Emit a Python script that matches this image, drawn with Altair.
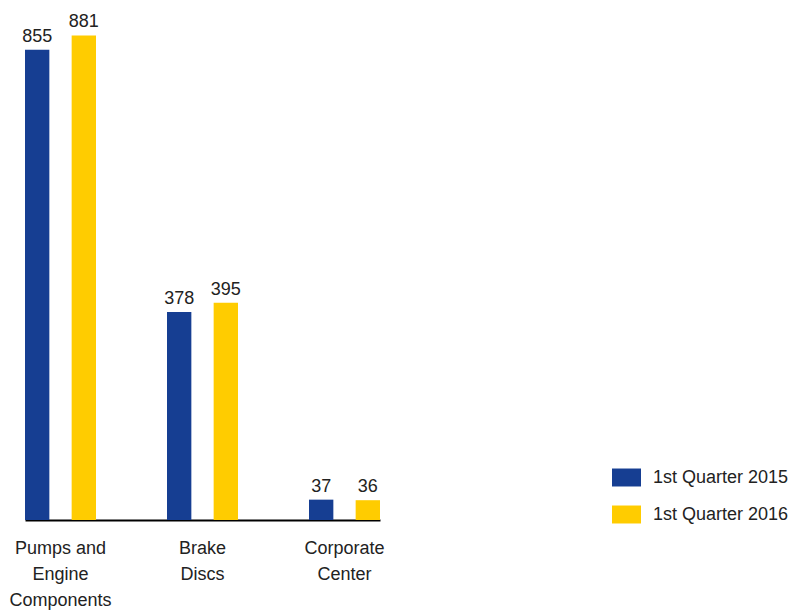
import altair as alt
import pandas as pd

categories = ["Pumps and\nEngine\nComponents", "Brake\nDiscs", "Corporate\nCenter"]
series = ["1st Quarter 2015", "1st Quarter 2016"]
q2015 = [855, 378, 37]
q2016 = [881, 395, 36]
colors = ["#163E92", "#FFCC00"]

rows = []
for c, a, b in zip(categories, q2015, q2016):
    rows.append({"cat": c, "series": series[0], "value": a})
    rows.append({"cat": c, "series": series[1], "value": b})
df = pd.DataFrame(rows)

FONT = "Liberation Sans"

x = alt.X("cat:N", sort=categories, title=None,
          scale=alt.Scale(paddingInner=0.5, paddingOuter=0.0),
          axis=alt.Axis(labelAngle=0, labelExpr="split(datum.label, '\\n')",
                        labelFontSize=18, labelLineHeight=26, labelFont=FONT,
                        labelColor="#222222", labelPadding=19, ticks=False,
                        domainColor="#000000", domainWidth=2, grid=False,
                        labelBaseline="top"))
xo = alt.XOffset("series:N", sort=series,
                 scale=alt.Scale(paddingInner=0.478, paddingOuter=0.0))
y = alt.Y("value:Q", scale=alt.Scale(domain=[0, 900], nice=False, zero=True),
          axis=None)

bars = alt.Chart(df).mark_bar().encode(
    x=x, xOffset=xo, y=y,
    color=alt.Color("series:N", sort=series,
                    scale=alt.Scale(domain=series, range=colors),
                    legend=alt.Legend(title=None, orient="none",
                                      legendX=587, legendY=438,
                                      symbolType="M-1,-0.62H1V0.62H-1Z",
                                      symbolSize=841, symbolStrokeWidth=0,
                                      labelFontSize=18, labelFont=FONT,
                                      labelColor="#222222", labelOffset=12,
                                      rowPadding=13, padding=0)),
)

labels = alt.Chart(df).mark_text(baseline="alphabetic", dy=-8, fontSize=18,
                                 font=FONT, color="#222222").encode(
    x=x, xOffset=xo, y=y, text=alt.Text("value:Q"))

chart = alt.layer(bars, labels).properties(
    width=355, height=495,
    background="white",
    autosize=alt.AutoSizeParams(type="none"),
    padding={"left": 25, "top": 25, "right": 408, "bottom": 90},
).configure_view(strokeWidth=0, stroke="transparent")

chart.save("out.html", embed_options={"renderer": "svg", "actions": False})
